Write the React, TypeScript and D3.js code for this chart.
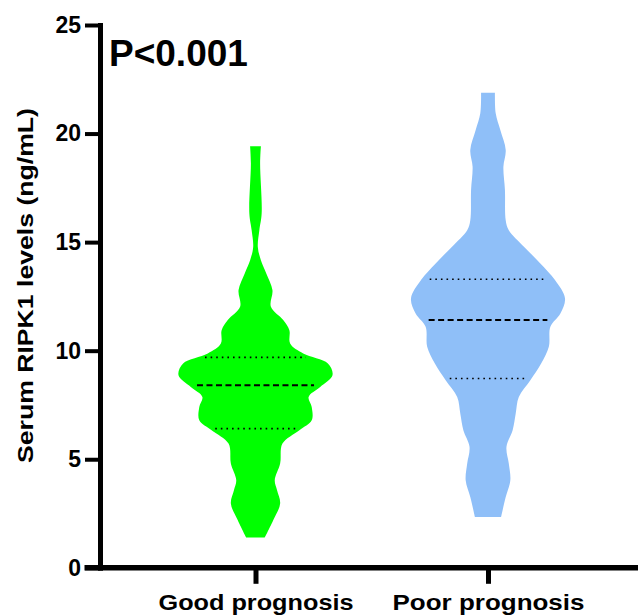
import * as d3 from "d3";
import React, { useEffect, useRef } from "react";

// group names shown on the x axis
const groups = ["Good prognosis", "Poor prognosis"];

// violin outlines: [RIPK1 level, relative density]
const goodDensity: [number, number][] = [
  [1.39, 0.12], [2.19, 0.23], [2.96, 0.32], [3.57, 0.28], [4.03, 0.25],
  [4.8, 0.32], [5.72, 0.35], [6.34, 0.57], [6.8, 0.73], [7.41, 0.73],
  [7.87, 0.69], [8.33, 0.84], [8.87, 1.0], [9.41, 0.94], [9.87, 0.62],
  [10.33, 0.45], [10.94, 0.44], [11.41, 0.36], [12.02, 0.2], [12.79, 0.22],
  [13.56, 0.14], [14.17, 0.07], [14.78, 0.03], [15.55, 0.05], [16.32, 0.08],
  [18.63, 0.06], [19.42, 0.07],
];
const poorDensity: [number, number][] = [
  [2.34, 0.17], [3.26, 0.23], [4.03, 0.29], [4.8, 0.27], [5.57, 0.24],
  [6.34, 0.32], [7.11, 0.36], [7.87, 0.4], [8.64, 0.55], [9.41, 0.69],
  [10.18, 0.79], [11.1, 0.81], [11.71, 0.94], [12.41, 1.0], [13.25, 0.87],
  [14.02, 0.68], [14.78, 0.47], [15.55, 0.27], [16.01, 0.23], [17.4, 0.22],
  [18.47, 0.2], [19.24, 0.23], [20.16, 0.16], [20.93, 0.1], [21.88, 0.09],
];

// quartiles [Q1, median, Q3]
const goodQuartiles = [6.41, 8.41, 9.69];
const poorQuartiles = [8.72, 11.41, 13.29];

const yTicks = [0, 5, 10, 15, 20, 25];
const colors = ["#00ff00", "#8fbff8"];

const font = "'Liberation Sans', Arial, sans-serif";

const App: React.FC = () => {
  const ref = useRef<SVGSVGElement>(null);

  useEffect(() => {
    const svg = d3.select(ref.current);
    svg.selectAll("*").remove();

    const y = d3.scaleLinear().domain([0, 25]).range([567.8, 25]);
    const x = d3.scalePoint<string>().domain(groups).range([255.5, 488]);
    const w = d3.scaleLinear().domain([0, 1]).range([0, 77]);

    const sets = [
      { name: groups[0], dens: goodDensity, q: goodQuartiles, color: colors[0] },
      { name: groups[1], dens: poorDensity, q: poorQuartiles, color: colors[1] },
    ];

    const interp = (dens: [number, number][], v: number) => {
      for (let i = 0; i < dens.length - 1; i++) {
        const [v0, d0] = dens[i];
        const [v1, d1] = dens[i + 1];
        if (v >= v0 && v <= v1) return d0 + ((v - v0) / (v1 - v0)) * (d1 - d0);
      }
      return 0;
    };

    sets.forEach((s) => {
      const cx = x(s.name)!;
      const area = d3
        .area<[number, number]>()
        .y((d) => y(d[0]))
        .x0((d) => cx - w(d[1]))
        .x1((d) => cx + w(d[1]))
        .curve(d3.curveCatmullRom.alpha(0.5));

      svg
        .append("path")
        .datum(s.dens)
        .attr("d", area)
        .attr("fill", s.color);

      s.q.forEach((v, i) => {
        const hw = w(interp(s.dens, v)) * 0.88;
        svg
          .append("line")
          .attr("x1", cx - hw)
          .attr("x2", cx + hw)
          .attr("y1", y(v))
          .attr("y2", y(v))
          .attr("stroke", "#000")
          .attr("stroke-width", i === 1 ? 2 : 1.6)
          .attr("stroke-dasharray", i === 1 ? "6,3.5" : "1.6,4");
      });
    });

    // y axis
    const yAxis = svg
      .append("g")
      .attr("transform", "translate(100,0)")
      .call(
        d3.axisLeft(y).tickValues(yTicks).tickSize(15).tickSizeOuter(0).tickPadding(4)
      );
    yAxis.select(".domain").attr("stroke-width", 5).attr("stroke-linecap", "square");
    yAxis.selectAll(".tick line").attr("stroke-width", 4);
    yAxis
      .selectAll(".tick text")
      .attr("font-family", font)
      .attr("font-weight", "bold")
      .attr("font-size", 23)
      .attr("fill", "#000");

    // x axis
    const xAxis = svg
      .append("g")
      .attr("transform", `translate(0,${y(0)})`)
      .call(d3.axisBottom(x).tickSize(16).tickSizeOuter(0).tickPadding(10));
    xAxis.select(".domain").remove();
    xAxis
      .append("line")
      .attr("x1", 84.5)
      .attr("x2", 640)
      .attr("stroke", "#000")
      .attr("stroke-width", 5.5);
    xAxis.selectAll(".tick line").attr("stroke-width", 5);
    xAxis
      .selectAll<SVGTextElement, string>(".tick text")
      .attr("font-family", font)
      .attr("font-weight", "bold")
      .attr("font-size", 22.5)
      .attr("fill", "#000")
      .attr("dy", null)
      .attr("y", 42)
      .attr("textLength", (d) => (d === groups[0] ? 195 : 192))
      .attr("lengthAdjust", "spacingAndGlyphs");

    // y axis title
    svg
      .append("text")
      .attr("transform", "translate(33,285.5) rotate(-90)")
      .attr("text-anchor", "middle")
      .attr("font-family", font)
      .attr("font-weight", "bold")
      .attr("font-size", 22.5)
      .attr("textLength", 355)
      .attr("lengthAdjust", "spacingAndGlyphs")
      .text("Serum RIPK1 levels (ng/mL)");

    // p value
    svg
      .append("text")
      .attr("x", 109)
      .attr("y", 65.5)
      .attr("font-family", font)
      .attr("font-weight", "bold")
      .attr("font-size", 37)
      .text("P<0.001");
  }, []);

  return (
    <svg
      ref={ref}
      width={638}
      height={616}
      style={{ display: "block", position: "absolute", left: 0, top: 0, background: "#fff" }}
    />
  );
};

export default App;
